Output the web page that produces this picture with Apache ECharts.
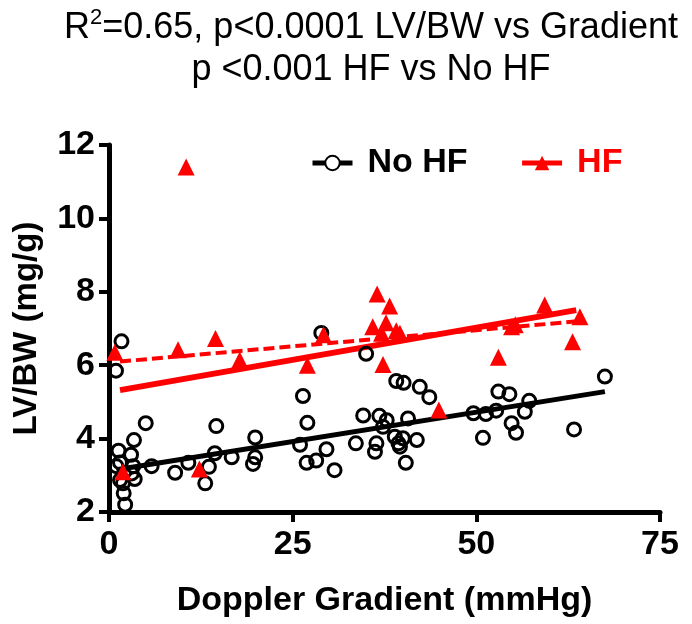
<!DOCTYPE html>
<html>
<head>
<meta charset="utf-8">
<script src="https://cdn.jsdelivr.net/npm/echarts@6/dist/echarts.min.js"></script>
<style>
html,body{margin:0;padding:0;background:#fff;}
#chart{width:692px;height:624px;}
</style>
</head>
<body>
<div id="chart"></div>
<script>
// ---- data ----
var xTicks = [0, 25, 50, 75];
var yTicks = [2, 4, 6, 8, 10, 12];

var noHfX = [1.7, 0.95, 5.0, 3.4, 1.3, 3.0, 1.0, 1.5, 3.3, 1.5, 3.5, 1.9, 3.1, 2.0, 2.2,
             5.8, 9.0, 10.8, 13.1, 13.6, 14.4, 14.6, 16.7, 19.9, 19.9, 19.6,
             26.4, 27.0, 26.0, 26.9, 28.2, 28.9, 29.6, 30.7, 33.6, 34.6,
             35.0, 36.8, 37.8, 37.3, 36.4, 36.2, 38.9, 39.4, 40.0, 39.6, 40.4, 40.7, 41.9,
             39.1, 40.1, 42.3, 43.6,
             49.6, 51.3, 52.7, 50.9, 53.0, 54.5, 54.8, 55.4, 56.6, 57.2, 63.3, 67.5];
var noHfY = [6.65, 5.85, 4.42, 3.96, 3.67, 3.56, 3.25, 3.35, 3.25, 2.87, 2.9, 2.78, 3.05, 2.51, 2.2,
             3.25, 3.07, 3.34, 2.78, 3.23, 3.6, 4.34, 3.49, 4.03, 3.49, 3.31,
             5.16, 4.43, 3.83, 3.34, 3.4, 6.88, 3.71, 3.14, 3.87, 4.63,
             6.31, 4.62, 4.5, 4.32, 3.87, 3.64, 4.05, 3.87, 4.01, 3.78, 3.34, 4.55, 3.96,
             5.57, 5.52, 5.41, 5.13,
             4.69, 4.67, 4.76, 4.02, 5.28, 5.21, 4.42, 4.16, 4.73, 5.03, 4.25, 5.69];

var hfX = [0.8, 1.9, 9.4, 10.5, 12.3, 14.5, 17.8, 27.0, 29.2, 35.9, 36.5, 37.1, 37.7, 38.2,
           39.1, 39.6, 37.3, 44.9, 53.0, 54.8, 55.3, 59.3, 63.1, 64.1];
var hfY = [6.35, 3.1, 6.42, 11.4, 3.17, 6.73, 6.14, 6.0, 6.83, 7.05, 7.94, 6.87, 7.16, 7.61,
           6.94, 6.87, 6.02, 4.78, 6.22, 7.05, 7.1, 7.64, 6.64, 7.32];

var noHfFitX = [1.0, 67.5];
var noHfFitY = [3.15, 5.28];
var hfFitX = [1.5, 63.6];
var hfFitY = [5.32, 7.5];
var hfDashX = [1.5, 64.0];
var hfDashY = [6.1, 7.2];

function pairs(xs, ys) { return xs.map(function (x, i) { return [x, ys[i]]; }); }

var FONT = '"Liberation Sans", Arial, sans-serif';
var chart = echarts.init(document.getElementById('chart'), null, {renderer: 'canvas'});
chart.setOption({
  animation: false,
  backgroundColor: '#fff',
  title: {
    left: 366, top: 2, textAlign: 'center',
    text: '{a|R}{s|2}{a|=0.65, p<0.0001 LV/BW vs Gradient}\n{a|p <0.001 HF vs No HF}',
    textStyle: {
      fontWeight: 'normal',
      rich: {
        a: {fontFamily: FONT, fontSize: 36, fontWeight: 'normal', color: '#000', lineHeight: 42},
        s: {fontFamily: FONT, fontSize: 22, fontWeight: 'normal', color: '#000', lineHeight: 42, verticalAlign: 'top', padding: [0, 0, 12, 0]}
      }
    }
  },
  legend: {
    left: 305, top: 141,
    itemWidth: 40, itemHeight: 18, itemGap: 52,
    lineStyle: {width: 5},
    textStyle: {fontFamily: FONT, fontSize: 34, fontWeight: 'bold', padding: [0, 0, 0, 10]},
    data: [
      {name: 'No HF', textStyle: {color: '#000'}},
      {name: 'HF', textStyle: {color: '#ff0000'}}
    ]
  },
  grid: {left: 109, top: 145, width: 551, height: 367, containLabel: false},
  xAxis: {
    type: 'value', min: xTicks[0], max: xTicks[xTicks.length - 1], interval: 25,
    splitLine: {show: false},
    axisLine: {lineStyle: {color: '#000', width: 5}},
    axisTick: {length: 10, lineStyle: {color: '#000', width: 4}},
    axisLabel: {color: '#000', fontFamily: FONT, fontSize: 34, fontWeight: 'bold', margin: 16},
    name: 'Doppler Gradient (mmHg)', nameLocation: 'middle', nameGap: 72,
    nameTextStyle: {color: '#000', fontFamily: FONT, fontSize: 34, fontWeight: 'bold'}
  },
  yAxis: {
    type: 'value', min: yTicks[0], max: yTicks[yTicks.length - 1], interval: 2,
    splitLine: {show: false},
    axisLine: {show: true, lineStyle: {color: '#000', width: 5}},
    axisTick: {show: true, length: 10, lineStyle: {color: '#000', width: 4}},
    axisLabel: {color: '#000', fontFamily: FONT, fontSize: 34, fontWeight: 'bold', margin: 14},
    name: 'LV/BW (mg/g)', nameLocation: 'middle', nameGap: 66,
    nameTextStyle: {color: '#000', fontFamily: FONT, fontSize: 33, fontWeight: 'bold'}
  },
  series: [
    {
      name: 'No HF', type: 'line', data: pairs(noHfFitX, noHfFitY),
      symbol: 'emptyCircle', showSymbol: false, z: 3,
      lineStyle: {color: '#000', width: 5}, itemStyle: {color: '#000'}
    },
    {
      name: 'HF', type: 'line', data: pairs(hfFitX, hfFitY),
      symbol: 'triangle', showSymbol: false, z: 3,
      lineStyle: {color: '#ff0000', width: 6}, itemStyle: {color: '#ff0000'}
    },
    {
      name: 'HF dashed', type: 'line', data: pairs(hfDashX, hfDashY),
      showSymbol: false, symbol: 'none', z: 3,
      lineStyle: {color: '#ff0000', width: 4, type: [11, 5]}
    },
    {
      name: 'No HF points', type: 'scatter', data: pairs(noHfX, noHfY),
      symbol: 'circle', symbolSize: 13, z: 4,
      itemStyle: {color: 'rgba(0,0,0,0)', borderColor: '#000', borderWidth: 3, opacity: 1}
    },
    {
      name: 'HF points', type: 'scatter', data: pairs(hfX, hfY),
      symbol: 'triangle', symbolSize: 17, z: 5,
      itemStyle: {color: '#ff0000', opacity: 1}
    }
  ]
});
</script>
</body>
</html>
